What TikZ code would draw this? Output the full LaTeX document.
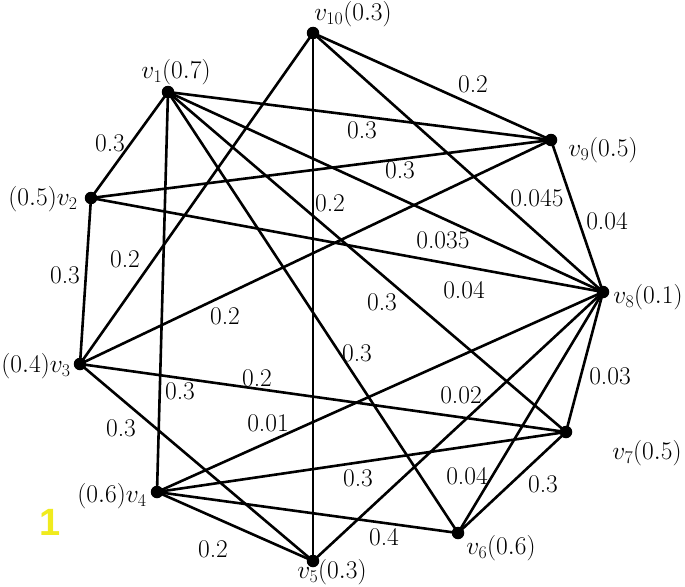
\RequirePackage{fix-cm}
\documentclass[tikz,border=0pt]{standalone}
\usepackage{fontspec}
\newfontfamily\yfont{Liberation Sans}
\definecolor{ylw}{RGB}{240,235,30}
\begin{document}
\begin{tikzpicture}[x=1pt,y=-1pt,
  vtx/.style={circle,fill=black,inner sep=0pt,minimum size=12.5pt},
  edge/.style={line width=2.6pt,line cap=round},
  wlab/.style={font=\fontsize{25.5}{29}\selectfont,inner sep=0pt},
  vlab/.style={font=\fontsize{25.5}{29}\selectfont,inner sep=0pt}]
\useasboundingbox (0,0) rectangle (685,586);
\fill[white] (0,0) rectangle (685,586);
% vertex positions
\coordinate (v1) at (168,92);
\coordinate (v2) at (91,198);
\coordinate (v3) at (80,364);
\coordinate (v4) at (157,492);
\coordinate (v5) at (313,561);
\coordinate (v6) at (458,533);
\coordinate (v7) at (566,432);
\coordinate (v8) at (603,292);
\coordinate (v9) at (551,140);
\coordinate (v10) at (313,33);
% edges
\draw[edge] (v1) -- (v2);
\draw[edge] (v1) -- (v9);
\draw[edge] (v1) -- (v8);
\draw[edge] (v1) -- (v7);
\draw[edge] (v1) -- (v6);
\draw[edge] (v1) -- (v4);
\draw[edge] (v2) -- (v3);
\draw[edge] (v2) -- (v9);
\draw[edge] (v2) -- (v8);
\draw[edge] (v3) -- (v10);
\draw[edge] (v3) -- (v9);
\draw[edge] (v3) -- (v7);
\draw[edge] (v3) -- (v5);
\draw[edge] (v4) -- (v8);
\draw[edge] (v4) -- (v7);
\draw[edge] (v4) -- (v6);
\draw[edge] (v4) -- (v5);
\draw[edge] (v5) -- (v10);
\draw[edge] (v5) -- (v8);
\draw[edge] (v6) -- (v8);
\draw[edge] (v6) -- (v7);
\draw[edge] (v7) -- (v8);
\draw[edge] (v8) -- (v9);
\draw[edge] (v8) -- (v10);
\draw[edge] (v9) -- (v10);
% dots
\foreach \i in {1,...,10} \node[vtx] (d\i) at (v\i) {};
% vertex labels
\node[vlab] (l10) at (353,14) {$v_{10}(0.3)$};
\node[vlab] (l1) at (176,72) {$v_{1}(0.7)$};
\node[vlab] (l9) at (603,150) {$v_{9}(0.5)$};
\node[vlab] (l2) at (43,199) {$(0.5)v_{2}$};
\node[vlab] (l8) at (648,297) {$v_{8}(0.1)$};
\node[vlab] (l3) at (36,366) {$(0.4)v_{3}$};
\node[vlab] (l7) at (647,453) {$v_{7}(0.5)$};
\node[vlab] (l4) at (112,496) {$(0.6)v_{4}$};
\node[vlab] (l6) at (501,548) {$v_{6}(0.6)$};
\node[vlab] (l5) at (332,572) {$v_{5}(0.3)$};
% edge weights
\node[wlab] (w1) at (473,84) {0.2};
\node[wlab] (w2) at (110,143) {0.3};
\node[wlab] (w3) at (362,130) {0.3};
\node[wlab] (w4) at (400,170) {0.3};
\node[wlab] (w5) at (330,203) {0.2};
\node[wlab] (w6) at (537,198) {0.045};
\node[wlab] (w7) at (607,221) {0.04};
\node[wlab] (w8) at (125,259) {0.2};
\node[wlab] (w9) at (443,240) {0.035};
\node[wlab] (w10) at (65,275) {0.3};
\node[wlab] (w11) at (464,290) {0.04};
\node[wlab] (w12) at (382,302) {0.3};
\node[wlab] (w13) at (225,316) {0.2};
\node[wlab] (w14) at (357,353) {0.3};
\node[wlab] (w15) at (610,376) {0.03};
\node[wlab] (w16) at (257,378) {0.2};
\node[wlab] (w17) at (180,391) {0.3};
\node[wlab] (w18) at (461,395) {0.02};
\node[wlab] (w19) at (268,423) {0.01};
\node[wlab] (w20) at (121,428) {0.3};
\node[wlab] (w21) at (358,478) {0.3};
\node[wlab] (w22) at (467,476) {0.04};
\node[wlab] (w23) at (543,484) {0.3};
\node[wlab] (w24) at (384,537) {0.4};
\node[wlab] (w25) at (213,549) {0.2};
% yellow mark
\node[font=\yfont\bfseries\fontsize{38}{40}\selectfont,text=ylw,inner sep=0pt] (mark) at (50,522) {1};
\end{tikzpicture}
\end{document}
